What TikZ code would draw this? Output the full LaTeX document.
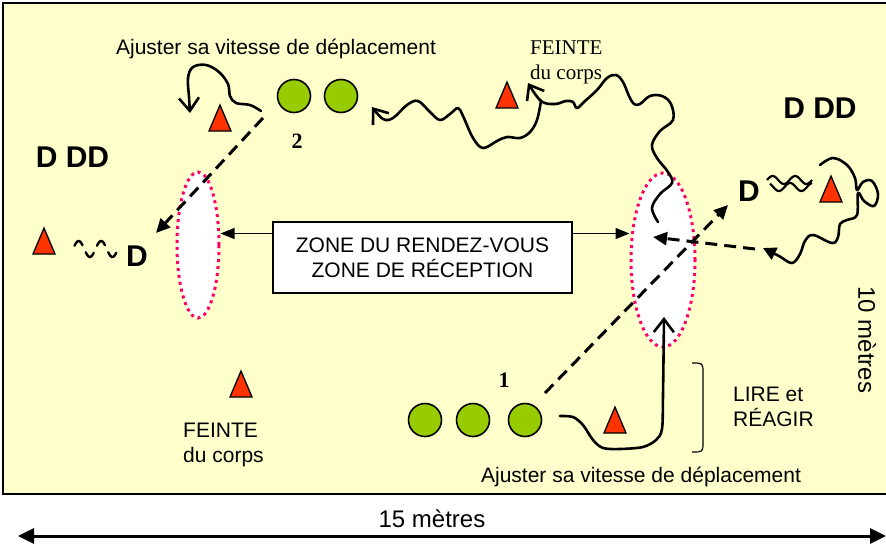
\documentclass[tikz,border=0pt]{standalone}
\usepackage{fontspec}
\setmainfont{Liberation Sans}
\newfontfamily\seriffont{Liberation Serif}
\usetikzlibrary{arrows.meta, positioning, shapes.geometric}
\definecolor{terrain}{HTML}{FFFFCC}
\definecolor{plotrouge}{HTML}{FF3300}
\definecolor{joueur}{HTML}{99CC00}
\definecolor{zonerose}{HTML}{FF0066}

\begin{document}
\begin{tikzpicture}[x=1pt, y=-1pt,
  txt/.style={font=\fontsize{21}{25}\selectfont, inner sep=0pt},
  gros/.style={font=\fontsize{30}{34}\selectfont\bfseries, inner sep=0pt},
  player/.style={circle, draw, line width=1.6pt, fill=joueur, minimum size=33pt, inner sep=0pt},
  plotcone/.style={fill=plotrouge, draw=black, line width=1.3pt},
  zone/.style={ellipse, draw=zonerose, fill=white, line width=3pt, dash pattern=on 3pt off 4pt, inner sep=0pt},
  course/.style={line width=2.6pt, line join=round, line cap=round},
  barb/.style={-{Straight Barb[length=13pt,width=20pt]}},
  passe/.style={line width=3pt, dash pattern=on 12pt off 7pt, -{Triangle[length=14pt,width=13pt]}}]
  \useasboundingbox (0,0) rectangle (886,550);

  % terrain
  \draw[fill=terrain, line width=2pt] (3,3) rectangle (895,494);

  % zones de reception
  \node[zone, minimum width=42pt, minimum height=146pt] (zoneg) at (198,245) {};
  \node[zone, minimum width=64pt, minimum height=174pt] (zoned) at (663,260) {};

  \node[draw, fill=white, line width=1.2pt, minimum width=299pt, minimum height=71pt,
        align=center, txt] (box) at (422.5,257.5) {ZONE DU RENDEZ-VOUS\\ZONE DE RÉCEPTION};
  \draw[line width=1.3pt, -{Triangle[length=14pt,width=11pt]}]
    ([yshift=24pt]box.west) -- ([yshift=24pt]box.west -| zoneg.east);
  \draw[line width=1.3pt, -{Triangle[length=14pt,width=11pt]}]
    ([yshift=24pt]box.east) -- ([yshift=24pt]box.east -| zoned.west);

  % joueurs
  \foreach \n/\x/\y in {t1/294/96, t2/341/96, b1/425/420, b2/473/420, b3/525/420}
    \node[player] (\n) at (\x,\y) {};

  % plots
  \foreach \x/\y in {220/118, 507/95, 831/189, 44/241, 241/384, 615/420}
    \filldraw[plotcone] (\x,\y) ++(-11,13) -- ++(11,-26) -- ++(11,26) -- cycle;

  % textes
  \node[txt, anchor=base] (aj1) at (276,54) {Ajuster sa vitesse de déplacement};
  \node[txt, anchor=base] (aj2) at (641,482) {Ajuster sa vitesse de déplacement};
  \node[txt, anchor=west, align=left, font=\fontsize{21}{25}\seriffont] (f1) at (530,62) {FEINTE\\du corps};
  \node[txt, anchor=west, align=left] (f2) at (183,445) {FEINTE\\du corps};
  \node[txt, anchor=west, align=left] (lire) at (733,407) {LIRE et\\RÉAGIR};
  \node[gros, anchor=base] (ddg) at (72.5,167) {D DD};
  \node[gros, anchor=base] (ddd) at (820,118) {D DD};
  \node[gros, anchor=base] (dg) at (137,266) {D};
  \node[gros, anchor=base] (dd) at (749,201) {D};
  \node[anchor=base, inner sep=0pt, font=\fontsize{22}{24}\seriffont\bfseries] (n2) at (297,148) {2};
  \node[anchor=base, inner sep=0pt, font=\fontsize{22}{24}\seriffont\bfseries] (n1) at (504,387) {1};
  \node[anchor=base, inner sep=0pt, font=\fontsize{24}{28}\selectfont] (l15) at (432,527) {15 mètres};
  \node[inner sep=0pt, font=\fontsize{24}{28}\selectfont, rotate=-90] (l10) at (867,340) {10 mètres};

  % accolade
  \draw[line width=1.2pt] (692,363) .. controls (703,363) .. (703,373) -- (703,442)
    .. controls (703,452) .. (692,452);

  % petites vagues des defenseurs
  \foreach \k in {0,1,2,3}
    \draw[line width=2.4pt, line cap=round]
      plot[domain={74.5+11.25*\k}:{82.5+11.25*\k}, samples=12] (\x, {249-8*sin(16*(\x-73))});
  \draw[line width=2.2pt] plot[domain=767:812, samples=40] (\x, {180-4*sin(16*(\x-767))});
  \draw[line width=2.2pt] plot[domain=770:812, samples=40] (\x, {187-4*sin(16*(\x-762))});

  % courses
  \coordinate (feinte) at (541,101);
  \draw[course, barb] plot[smooth, tension=0.6] coordinates {(658,222) (652,208) (660,194) (672,183)
    (668,172) (657,158) (652,145) (660,131) (673,120) (671,104) (662,96) (650,96) (640,104)
    (634,104) (629,96) (623,82) (616,75) (607,78) (597,90) (585,101) (577,108) (573,102)
    (566,101) (555,104) (feinte) (528,83)};
  \draw[course, barb] plot[smooth, tension=0.6] coordinates {(feinte) (537,120) (530,132) (520,138)
    (507,137) (497,141) (483,148) (473,138) (463,116) (458,108) (450,114) (440,120) (430,112)
    (418,101) (407,105) (393,118) (383,119) (372,107)};
  \draw[course, barb] plot[smooth, tension=0.6] coordinates {(261,111) (250,105) (236,103) (230,96)
    (228,84) (219,72) (206,65) (193,67) (188,78) (189,97) (190,113)};
  \draw[course, barb] plot[smooth, tension=0.5] coordinates {(560,416) (573,417) (583,425) (593,440)
    (603,448) (620,449) (643,447) (656,440) (662,429) (663,395) (664,317)};
  \draw[course, -{Triangle[length=13pt,width=13pt]}] plot[smooth, tension=0.6] coordinates {(820,165)
    (833,158) (847,165) (855,178) (857,190) (863,182) (872,181) (878,194) (874,206) (864,201)
    (858,193) (857,215) (847,220) (840,224) (838,237) (832,243) (813,235) (805,241) (800,254)
    (792,263) (779,256) (763,248)};

  % passes
  \coordinate (p2) at (263,118);
  \coordinate (r2) at (156,233);
  \coordinate (p1) at (545,393);
  \coordinate (r1) at (728,205);
  \coordinate (p3) at (755,249);
  \coordinate (r3) at (653,237);
  \draw[passe] (p2) -- (r2);
  \draw[passe] (p1) -- (r1);
  \draw[passe] (p3) -- (r3);

  % 15 metres
  \coordinate (g15) at (18,536);
  \coordinate (d15) at (886,536);
  \draw[line width=3pt, {Triangle[length=16pt,width=15pt]}-{Triangle[length=16pt,width=15pt]}] (g15) -- (d15);
\end{tikzpicture}
\end{document}
